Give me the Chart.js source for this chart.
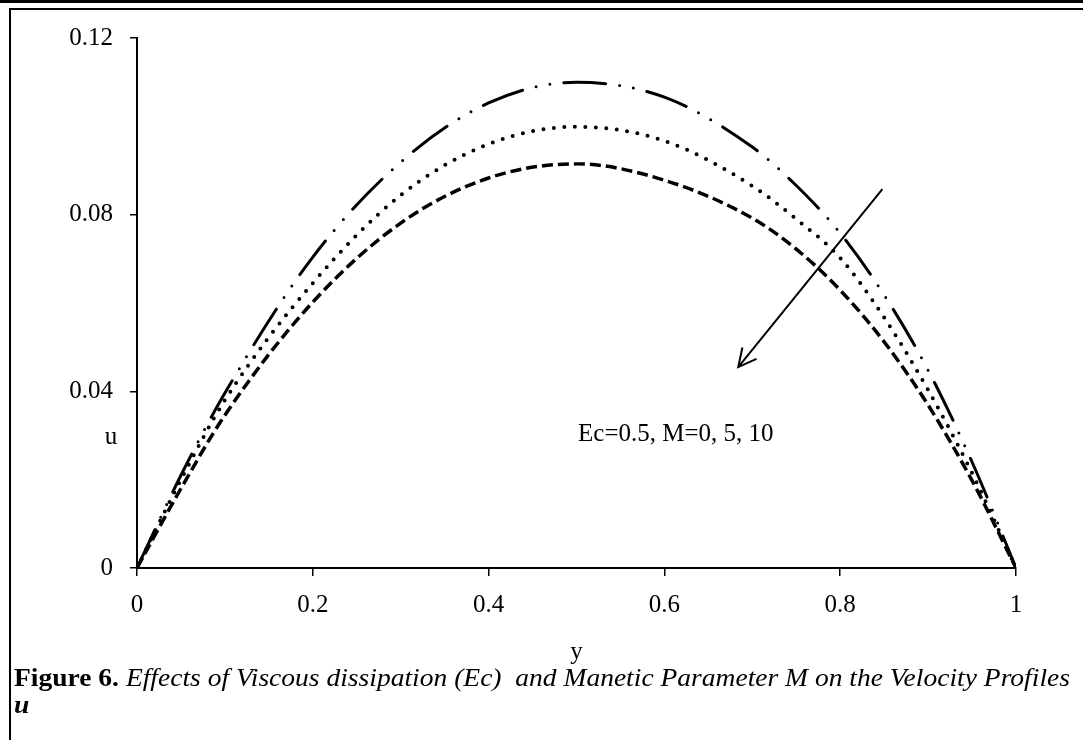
<!DOCTYPE html>
<html>
<head>
<meta charset="utf-8">
<script src="https://cdn.jsdelivr.net/npm/chart.js@4.4.1/dist/chart.umd.min.js"></script>
<style>
  body { margin: 0; background: #fff; overflow: hidden; width: 1083px; height: 740px; position: relative; }
  #topbar { position: absolute; left: 0; top: 0; width: 1083px; height: 3px; background: #000; }
  #frame { position: absolute; left: 9px; top: 8px; width: 1200px; height: 800px; border-left: 2px solid #000; border-top: 2px solid #000; }
  #chart-wrap { position: absolute; left: 0; top: 0; width: 1083px; height: 740px; }
  #caption { position: absolute; left: 14px; top: 664px; font-family: "Liberation Serif", "Times New Roman", serif; font-size: 25px; line-height: 27px; color: #000; white-space: nowrap; transform-origin: 0 0; }
</style>
</head>
<body>
<div id="topbar"></div>
<div id="frame"></div>
<div id="chart-wrap"><canvas id="chartcanvas" width="1083" height="740"></canvas></div>
<div id="caption"><span id="cap1"><b>Figure 6.</b> <i>Effects of Viscous dissipation (Ec)&nbsp; and Manetic Parameter M on the Velocity Profiles</i></span><br><b><i>u</i></b></div>
<script>
// positions across the channel
var yPos = [0, 0.05, 0.1, 0.2, 0.3, 0.4, 0.5, 0.6, 0.7, 0.75, 0.8, 0.85, 0.9, 0.95, 1];

// velocity u for Ec=0.5 and M = 0, 5, 10
var uM0  = [0, 0.0210, 0.0396, 0.0704, 0.0919, 0.1053, 0.1100, 0.1066, 0.0953, 0.0866, 0.0758, 0.0618, 0.0448, 0.0240, 0];
var uM5  = [0, 0.0200, 0.0380, 0.0645, 0.0844, 0.0960, 0.0999, 0.0967, 0.0865, 0.0790, 0.0702, 0.0567, 0.0403, 0.0215, 0];
var uM10 = [0, 0.0180, 0.0346, 0.0602, 0.0781, 0.0883, 0.0915, 0.0878, 0.0792, 0.0722, 0.0629, 0.0512, 0.0369, 0.0198, 0];

// tick labels
var xTicks = [0, 0.2, 0.4, 0.6, 0.8, 1];
var yTicks = [0, 0.04, 0.08, 0.12];

// arrow (data coords) and note
var arrowFrom = [0.848, 0.0858];
var arrowTo = [0.684, 0.0455];
var noteText = "Ec=0.5, M=0, 5, 10";
var notePos = [0.613, 0.0303];

var serif = "'Liberation Serif', 'Times New Roman', serif";

function toPoints(vals) {
    return vals.map(function(v, i){ return {x: yPos[i], y: v}; });
}

// draws the arrow, the note and the axis titles
var annotations = {
    id: "annotations",
    afterDatasetsDraw: function(chart) {
        var c = chart.ctx;
        var xs = chart.scales.x, ys = chart.scales.y, area = chart.chartArea;
        var x1 = xs.getPixelForValue(arrowFrom[0]), y1 = ys.getPixelForValue(arrowFrom[1]);
        var x2 = xs.getPixelForValue(arrowTo[0]), y2 = ys.getPixelForValue(arrowTo[1]);
        c.save();
        c.strokeStyle = "#000";
        c.lineWidth = 2;
        c.beginPath();
        c.moveTo(x1, y1);
        c.lineTo(x2, y2);
        var ang = Math.atan2(y1 - y2, x1 - x2);
        var len = 20, spread = 27 * Math.PI / 180;
        c.moveTo(x2 + len * Math.cos(ang - spread), y2 + len * Math.sin(ang - spread));
        c.lineTo(x2, y2);
        c.lineTo(x2 + len * Math.cos(ang + spread), y2 + len * Math.sin(ang + spread));
        c.stroke();

        c.fillStyle = "#000";
        c.font = "25px " + serif;
        c.textAlign = "center";
        c.textBaseline = "middle";
        c.fillText(noteText, xs.getPixelForValue(notePos[0]), ys.getPixelForValue(notePos[1]));
        c.fillText("u", area.left - 26, ys.getPixelForValue(0.0296));
        c.fillText("y", (area.left + area.right) / 2, area.bottom + 84);
        c.restore();
    }
};

var data = {
    datasets: [
        {
            label: "M=0",
            data: toPoints(uM0),
            borderColor: "#000",
            borderWidth: 3,
            borderDash: [42, 14, 0, 14, 0, 14],
            borderCapStyle: "round",
            pointRadius: 0,
            cubicInterpolationMode: "monotone"
        },
        {
            label: "M=5",
            data: toPoints(uM5),
            borderColor: "#000",
            borderWidth: 4,
            borderDash: [0, 10.5],
            borderCapStyle: "round",
            pointRadius: 0,
            cubicInterpolationMode: "monotone"
        },
        {
            label: "M=10",
            data: toPoints(uM10),
            borderColor: "#000",
            borderWidth: 3.5,
            borderDash: [11, 5],
            borderCapStyle: "butt",
            pointRadius: 0,
            cubicInterpolationMode: "monotone"
        }
    ]
};

var tickFont = {family: serif, size: 25};

var options = {
    responsive: false,
    animation: false,
    layout: { padding: {left: 0, top: 38, right: 67, bottom: 112} },
    plugins: { legend: {display: false}, tooltip: {enabled: false} },
    scales: {
        x: {
            type: "linear",
            min: 0, max: 1,
            afterBuildTicks: function(s){ s.ticks = xTicks.map(function(v){ return {value: v}; }); },
            afterFit: function(s){ s.height = 60; },
            ticks: { color: "#000", font: tickFont, padding: 14, maxRotation: 0, callback: function(v){ return String(v); } },
            grid: { drawOnChartArea: false, drawTicks: true, tickLength: 8, color: "#000", lineWidth: 1.5 },
            border: { display: true, color: "#000", width: 2 }
        },
        y: {
            type: "linear",
            min: 0, max: 0.12,
            afterBuildTicks: function(s){ s.ticks = yTicks.map(function(v){ return {value: v}; }); },
            afterFit: function(s){ s.width = 137; },
            ticks: { color: "#000", font: tickFont, padding: 17, callback: function(v){ return String(v); } },
            grid: { drawOnChartArea: false, drawTicks: true, tickLength: 7, color: "#000", lineWidth: 1.5 },
            border: { display: true, color: "#000", width: 2 }
        }
    }
};

var chart1 = new Chart(document.getElementById("chartcanvas"), {
    type: "line",
    data: data,
    options: options,
    plugins: [annotations]
});

// fit the caption line to the same width as in the figure
var cap = document.getElementById("caption");
var w = document.getElementById("cap1").getBoundingClientRect().width;
cap.style.transform = "scaleX(" + (1056 / w) + ")";
</script>
</body>
</html>
